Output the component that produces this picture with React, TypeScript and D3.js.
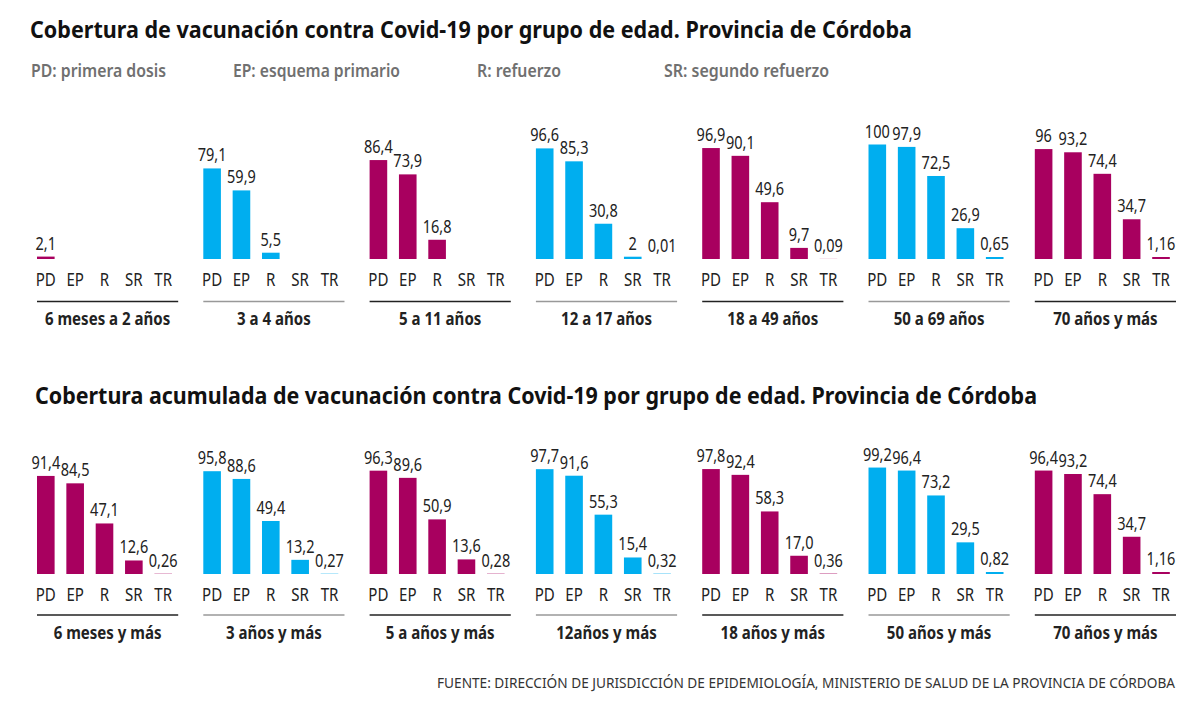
import * as d3 from "d3";

// dose categories
const doses = ["PD", "EP", "R", "SR", "TR"];

const legendItems = ["PD: primera dosis", "EP: esquema primario", "R: refuerzo", "SR: segundo refuerzo"];

// top chart: coverage by age group (values as printed, "" = no data)
const topGroups = ["6 meses a 2 años", "3 a 4 años", "5 a 11 años", "12 a 17 años", "18 a 49 años", "50 a 69 años", "70 años y más"];
const topValues = [
  ["2,1", "", "", "", ""],
  ["79,1", "59,9", "5,5", "", ""],
  ["86,4", "73,9", "16,8", "", ""],
  ["96,6", "85,3", "30,8", "2", "0,01"],
  ["96,9", "90,1", "49,6", "9,7", "0,09"],
  ["100", "97,9", "72,5", "26,9", "0,65"],
  ["96", "93,2", "74,4", "34,7", "1,16"],
];

// bottom chart: cumulative coverage
const bottomGroups = ["6 meses y más", "3 años y más", "5 a años y más", "12años y más", "18 años y más", "50 años y más", "70 años y más"];
const bottomValues = [
  ["91,4", "84,5", "47,1", "12,6", "0,26"],
  ["95,8", "88,6", "49,4", "13,2", "0,27"],
  ["96,3", "89,6", "50,9", "13,6", "0,28"],
  ["97,7", "91,6", "55,3", "15,4", "0,32"],
  ["97,8", "92,4", "58,3", "17,0", "0,36"],
  ["99,2", "96,4", "73,2", "29,5", "0,82"],
  ["96,4", "93,2", "74,4", "34,7", "1,16"],
];

const title1 = "Cobertura de vacunación contra Covid-19 por grupo de edad. Provincia de Córdoba";
const title2 = "Cobertura acumulada de vacunación contra Covid-19 por grupo de edad. Provincia de Córdoba";
const source = "FUENTE: DIRECCIÓN DE JURISDICCIÓN DE EPIDEMIOLOGÍA, MINISTERIO DE SALUD DE LA PROVINCIA DE CÓRDOBA";

const MAGENTA = "#a8005f";
const BLUE = "#00aeef";
const FONT = "'Noto Sans', 'Open Sans', sans-serif";

const parse = (s: string) => (s === "" ? null : +s.replace(",", "."));

function T({ x, y, size = 17.5, sx = 0.83, weight = 400, fill = "#222", anchor = "middle", children }) {
  return (
    <text
      transform={`translate(${x},${y}) scale(${sx},1)`}
      fontSize={size}
      fontWeight={weight}
      fill={fill}
      textAnchor={anchor}
      fontFamily={FONT}
    >
      {children}
    </text>
  );
}

const panelX = d3.scaleBand<number>().domain(d3.range(7)).range([37, 1176]).paddingInner(0.151).paddingOuter(0);

function Row({ groups, values, base, full, catY, lineY, groupY }) {
  const y = d3.scaleLinear().domain([0, 100]).range([base, base - full]);
  return (
    <g>
      {groups.map((g, i) => {
        const x0 = panelX(i)!;
        const bx = d3.scaleBand<string>().domain(doses).range([x0, x0 + 135]).paddingInner(0.4).paddingOuter(0);
        const color = i % 2 === 0 ? MAGENTA : BLUE;
        const lineColor = i % 2 === 0 ? "#222" : "#999";
        return (
          <g key={g}>
            {doses.map((d, j) => {
              const raw = values[i][j];
              const v = parse(raw);
              const cx = bx(d)! + bx.bandwidth() / 2;
              let top = v == null ? base : y(v);
              if (v != null && v >= 0.5) top = Math.min(top, base - 2);
              return (
                <g key={d}>
                  {v != null && (
                    <rect x={bx(d)} width={bx.bandwidth()} y={top} height={base - top} fill={color} />
                  )}
                  {v != null && <T x={cx} y={top - 7}>{raw}</T>}
                  <T x={cx} y={catY} sx={0.86}>{d}</T>
                </g>
              );
            })}
            <line x1={x0} x2={x0 + panelX.bandwidth()} y1={lineY} y2={lineY} stroke={lineColor} strokeWidth={1.5} />
            <T x={x0 + panelX.bandwidth() / 2} y={groupY} sx={0.86} weight={700}>{g}</T>
          </g>
        );
      })}
    </g>
  );
}

export default function App() {
  const legendX = [31, 233, 477, 664];
  const legendW = [135, 167, 84, 165];
  return (
    <svg width={1200} height={711} style={{ position: "absolute", left: 0, top: 0, background: "#fff" }}>
      <text x={30} y={38} fontFamily={FONT} fontWeight={700} fontSize={23} fill="#111" textLength={882} lengthAdjust="spacingAndGlyphs">
        {title1}
      </text>
      {legendItems.map((t, i) => (
        <text key={t} x={legendX[i]} y={77} fontFamily={FONT} fontWeight={600} fontSize={17} fill="#707070" textLength={legendW[i]} lengthAdjust="spacingAndGlyphs">
          {t}
        </text>
      ))}
      <Row groups={topGroups} values={topValues} base={259} full={114.5} catY={286} lineY={301.5} groupY={325} />
      <text x={35} y={404} fontFamily={FONT} fontWeight={700} fontSize={23} fill="#111" textLength={1002} lengthAdjust="spacingAndGlyphs">
        {title2}
      </text>
      <Row groups={bottomGroups} values={bottomValues} base={574} full={107.3} catY={601} lineY={615} groupY={639} />
      <text x={437} y={688} fontFamily={FONT} fontSize={14} fill="#333" textLength={738} lengthAdjust="spacingAndGlyphs">
        {source}
      </text>
    </svg>
  );
}
